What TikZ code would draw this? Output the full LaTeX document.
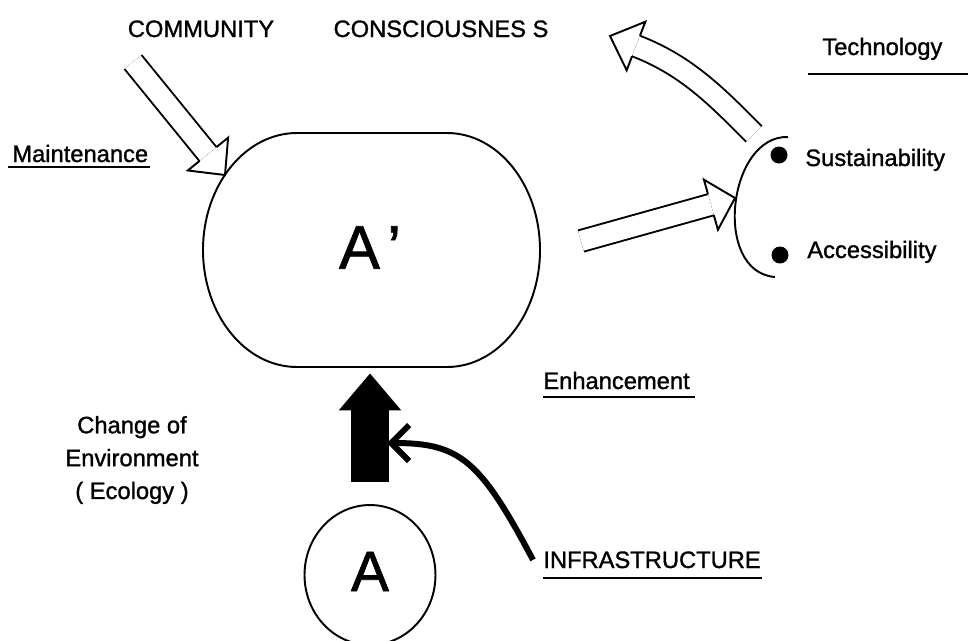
\documentclass[tikz,border=0pt]{standalone}
\usepackage{fontspec}
\setmainfont{Liberation Sans}[FakeBold=1.2]
\usetikzlibrary{calc,arrows.meta,shapes.geometric}

\tikzset{
	lbl/.style={inner sep=0pt, font=\fontsize{13.5}{18.7}\selectfont},
	outline/.style={line width=1.1pt, line join=miter},
	uline/.style={line width=1.3pt},
	hollow/.style={double, double distance=0.40cm, line width=1.1pt},
	dot/.style={circle, fill, inner sep=0pt, minimum size=0.34cm},
	blockarrow/.style={line width=0.78cm, -{Triangle[length=0.74cm 0 0, width=1.2cm 0 0]}},
	curvearrow/.style={line width=3.4pt, -{Straight Barb[length=0.36cm 0 0, width=0.72cm 0 0]}},
}

% open head of a hollow arrow: #1 = base point, #2 = tip
\newcommand{\hollowhead}[2]{%
	\draw[outline] ($(#1)!0.22cm!90:(#2)$) -- ($(#1)!0.52cm!90:(#2)$) -- (#2)
		-- ($(#1)!0.52cm!-90:(#2)$) -- ($(#1)!0.22cm!-90:(#2)$);
}

\begin{document}
\begin{tikzpicture}[x=0.02cm, y=0.02cm]
		\useasboundingbox (0,0) rectangle (968,-640);
		
		% States A' and A
		\node[lbl, minimum width=6.74cm, minimum height=4.68cm] (Ap) at (370,-250) {\raisebox{0.1cm}{\fontsize{35}{40}\selectfont A\kern0.12em’}};
		\draw[outline] (297,-133) -- (447,-133) arc[start angle=90, end angle=-90, x radius=93, y radius=117]
			-- (297,-367) arc[start angle=270, end angle=90, x radius=94, y radius=117] -- cycle;
		\node[lbl, ellipse, draw, outline, minimum width=2.62cm, minimum height=2.8cm] (A) at (370,-575) {\raisebox{0.14cm}{\fontsize{32.5}{36}\selectfont A}};
		
		% Labels
		\node[lbl, anchor=base] (community) at (201,-37) {COMMUNITY};
		\node[lbl, anchor=base] (conscious) at (441,-37) {CONSCIOUSNES S};
		\node[lbl, anchor=base west] (tech) at (822,-55) {Technology};
		\node[lbl, anchor=base west] (maint) at (12,-162) {Maintenance};
		\node[lbl, anchor=base west] (sustain) at (805,-166) {Sustainability};
		\node[lbl, anchor=base west] (access) at (807,-258) {Accessibility};
		\node[lbl, anchor=base west] (enhance) at (543,-389) {Enhancement};
		\node[lbl, anchor=base west] (infra) at (543,-568) {INFRASTRUCTURE};
		\node[lbl, align=center] (change) at (132,-460) {Change of\\Environment\\( Ecology )};
		
		% Underlines
		\draw[uline] (808,-74) -- (968,-74);
		\draw[uline] (8,-167) -- (150,-167);
		\draw[uline] (543,-397) -- (695,-397);
		\draw[uline] (543,-578) -- (762,-578);
		
		% Bracket with bullets
		\node[dot] (sdot) at (779,-155) {};
		\node[dot] (adot) at (780,-255) {};
		\draw[outline] (788,-137) .. controls (728,-135) and (712,-272) .. (775,-277);
		
		% Arrow ends
		\coordinate (commtail) at (133,-62);
		\coordinate (commtip) at (225,-175);
		\coordinate (enhtail) at (581,-241);
		\coordinate (enhtip) at (735,-198);
		\coordinate (techtail) at (754,-134);
		\coordinate (techbase) at (636,-46);
		\coordinate (techtip) at (610,-36);
		\coordinate (blockside) at (387,-443);
		\coordinate (commbase) at ($(commtip)!0.54cm!(commtail)$);
		\coordinate (enhbase) at ($(enhtip)!0.5cm!(enhtail)$);
		
		% Hollow arrows
		\draw[hollow] (commtail) -- (commbase);
		\hollowhead{commbase}{commtip}
		\draw[hollow] (enhtail) -- (enhbase);
		\hollowhead{enhbase}{enhtip}
		\draw[hollow] (techtail) .. controls (719,-99) and (688,-66) .. (techbase);
		\hollowhead{techbase}{techtip}
		
		% Change from A to A'
		\draw[blockarrow] ([yshift=0.44cm]A.north) -- ([yshift=-0.12cm]Ap.south);
		\draw[curvearrow] ([xshift=-0.2cm]infra.west) .. controls (480,-460) and (460,-443) .. (blockside);
	\end{tikzpicture}
\end{document}
